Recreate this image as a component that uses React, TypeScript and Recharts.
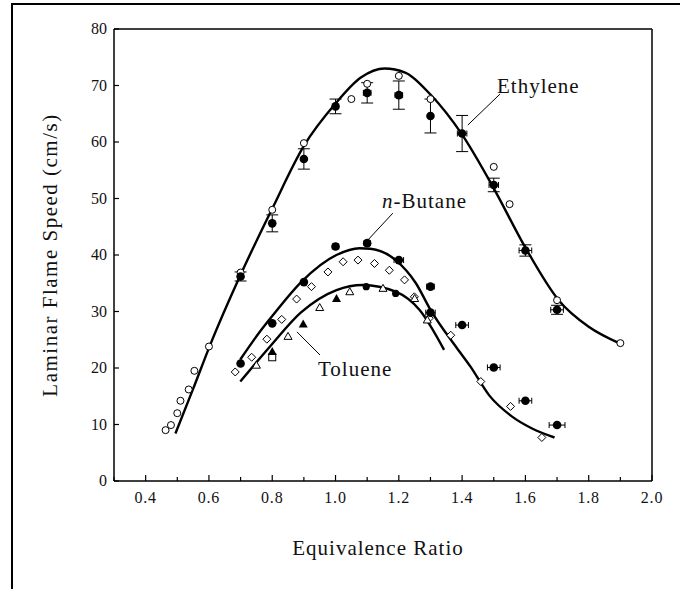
import React from 'react';
import {
  ComposedChart,
  Line,
  Scatter,
  XAxis,
  YAxis,
  ErrorBar,
  ReferenceLine,
} from 'recharts';

// fitted curves, [phi, speed]
const ethyleneCurve: number[][] = [
  [0.494, 8.4], [0.55, 16.3], [0.604, 24.1], [0.7, 36.5], [0.8, 48.2], [0.9, 59.3],
  [1.0, 66.8], [1.08, 71.4], [1.155, 73.0], [1.22, 72.3], [1.3, 68.4], [1.4, 61.3],
  [1.5, 51.8], [1.6, 41.3], [1.705, 32.0], [1.8, 27.3], [1.896, 24.4],
];
const butaneCurve: number[][] = [
  [0.699, 21.5], [0.762, 26.5], [0.8, 29.2], [0.893, 35.3], [1.003, 40.0], [1.076, 41.2],
  [1.11, 41.1], [1.19, 39.1], [1.254, 35.0], [1.3, 30.3], [1.38, 23.8], [1.427, 20.2],
  [1.485, 15.2], [1.558, 11.4], [1.621, 9.3], [1.692, 7.7],
];
const tolueneCurve: number[][] = [
  [0.699, 17.6], [0.793, 23.8], [0.89, 29.8], [1.003, 33.8], [1.086, 34.7], [1.19, 33.5],
  [1.265, 30.3], [1.343, 23.2],
];

// measurements
const ethyleneOpen: number[][] = [
  [0.463, 9.0], [0.48, 9.9], [0.5, 12.0], [0.51, 14.2], [0.536, 16.2], [0.554, 19.5],
  [0.6, 23.8], [0.7, 36.9], [0.8, 48.0], [0.9, 59.8], [1.05, 67.6], [1.1, 70.3],
  [1.2, 71.7], [1.3, 67.6], [1.5, 55.6], [1.55, 49.0], [1.7, 32.0], [1.9, 24.4],
];
// [phi, speed, y-error, x-error]
const ethyleneFilled: number[][] = [
  [0.7, 36.2, 0.8, 0], [0.8, 45.6, 1.5, 0], [0.9, 57.0, 1.8, 0], [1.0, 66.3, 1.3, 0],
  [1.1, 68.7, 1.8, 0.012], [1.2, 68.3, 2.5, 0.012], [1.3, 64.6, 3.0, 0],
  [1.4, 61.5, 3.2, 0.015], [1.5, 52.4, 1.2, 0.015], [1.6, 40.8, 1.0, 0.02],
  [1.7, 30.3, 0.8, 0.02],
];
const butaneFilled: number[][] = [
  [0.7, 20.8, 0], [0.8, 27.9, 0], [0.9, 35.2, 0], [1.0, 41.5, 0.01], [1.1, 42.1, 0.01],
  [1.2, 39.1, 0.015], [1.3, 34.4, 0.012], [1.3, 29.8, 0.015], [1.4, 27.6, 0.02],
  [1.5, 20.1, 0.02], [1.6, 14.2, 0.02], [1.7, 9.9, 0.025],
];
const butaneOpen: number[][] = [
  [0.683, 19.3], [0.735, 21.9], [0.783, 25.1], [0.83, 28.6], [0.877, 32.2], [0.924, 34.4],
  [0.976, 37.0], [1.024, 38.8], [1.071, 39.1], [1.123, 38.5], [1.17, 37.3], [1.218, 35.6],
  [1.249, 32.6], [1.296, 28.8], [1.364, 25.8], [1.459, 17.6], [1.553, 13.2], [1.652, 7.7],
];
const tolueneTriFilled: number[][] = [[0.8, 22.9], [0.898, 27.8], [1.003, 32.3]];
const tolueneDotFilled: number[][] = [[1.097, 34.4], [1.19, 33.2]];
const tolueneTriOpen: number[][] = [
  [0.75, 20.5], [0.85, 25.6], [0.95, 30.7], [1.045, 33.5], [1.15, 34.1], [1.25, 32.3], [1.29, 28.5],
];
const tolueneSquare: number[][] = [[0.8, 21.9]];

const xTicks = [0.3, 0.4, 0.5, 0.6, 0.7, 0.8, 0.9, 1.0, 1.1, 1.2, 1.3, 1.4, 1.5, 1.6, 1.7, 1.8, 1.9, 2.0];
const yTicks = [0, 10, 20, 30, 40, 50, 60, 70, 80];

const toPts = (arr: number[][]) =>
  arr.map((d) => ({ phi: d[0], v: d[1], ey: d[2] ?? 0, ex: d[3] ?? 0 }));
const toButane = (arr: number[][]) => arr.map((d) => ({ phi: d[0], v: d[1], ex: d[2] }));

const FONT = "'Liberation Serif', 'DejaVu Serif', serif";

const XTick = ({ x, y, payload }: any) => {
  const v = payload.value;
  const tenth = Math.round(v * 10);
  const major = tenth % 2 === 0;
  return (
    <g>
      <line x1={x} y1={y} x2={x} y2={y - (major ? 6 : 4)} stroke="#000" strokeWidth={1.2} />
      {major && tenth >= 4 && (
        <text
          x={x}
          y={y + 22}
          textAnchor="middle"
          fill="#111"
          style={{ fontFamily: FONT, fontSize: 16, letterSpacing: 0.8 }}
        >
          {v.toFixed(1)}
        </text>
      )}
    </g>
  );
};

const YTick = ({ x, y, payload }: any) => (
  <g>
    <line x1={x} y1={y} x2={x + 5} y2={y} stroke="#000" strokeWidth={1.2} />
    <text x={x - 7} y={y + 5} textAnchor="end" fill="#111" style={{ fontFamily: FONT, fontSize: 16 }}>
      {payload.value}
    </text>
  </g>
);

const openCircle = (p: any) => <circle cx={p.cx} cy={p.cy} r={3.5} fill="#fff" stroke="#000" strokeWidth={1} />;
const filledCircle = (p: any) => <circle cx={p.cx} cy={p.cy} r={4.3} fill="#000" />;
const smallDot = (p: any) => <circle cx={p.cx} cy={p.cy} r={3.6} fill="#000" />;
const diamond = (p: any) => (
  <polygon
    points={`${p.cx},${p.cy - 4} ${p.cx + 4},${p.cy} ${p.cx},${p.cy + 4} ${p.cx - 4},${p.cy}`}
    fill="#fff"
    stroke="#000"
    strokeWidth={1}
  />
);
const triFilled = (p: any) => (
  <polygon points={`${p.cx},${p.cy - 4.5} ${p.cx + 4.5},${p.cy + 3.5} ${p.cx - 4.5},${p.cy + 3.5}`} fill="#000" />
);
const triOpen = (p: any) => (
  <polygon
    points={`${p.cx},${p.cy - 4} ${p.cx + 4},${p.cy + 3} ${p.cx - 4},${p.cy + 3}`}
    fill="#fff"
    stroke="#000"
    strokeWidth={1}
  />
);
const square = (p: any) => (
  <rect x={p.cx - 3.5} y={p.cy - 3.5} width={7} height={7} fill="#fff" stroke="#000" strokeWidth={1} />
);

const textStyle: React.CSSProperties = {
  position: 'absolute',
  fontFamily: FONT,
  fontSize: 21,
  letterSpacing: 1,
  color: '#111',
  lineHeight: 1,
  whiteSpace: 'nowrap',
};

export default function App() {
  return (
    <div style={{ position: 'absolute', left: 0, top: 0, width: 680, height: 589, background: '#fff' }}>
      <div
        style={{
          position: 'absolute',
          left: 11,
          top: 3,
          width: 667,
          height: 584,
          borderLeft: '2px solid #000',
          borderTop: '2px solid #000',
        }}
      />
      <ComposedChart width={680} height={589} margin={{ top: 29, right: 28, bottom: 78, left: 54 }}>
        <XAxis
          type="number"
          dataKey="phi"
          domain={[0.3, 2.0]}
          ticks={xTicks}
          interval={0}
          allowDataOverflow
          height={30}
          tickSize={0}
          tickMargin={0}
          tickLine={false}
          tick={<XTick />}
          axisLine={{ stroke: '#000', strokeWidth: 1.5 }}
        />
        <YAxis
          type="number"
          domain={[0, 80]}
          ticks={yTicks}
          interval={0}
          width={60}
          tickSize={0}
          tickMargin={0}
          tickLine={false}
          tick={<YTick />}
          axisLine={{ stroke: '#000', strokeWidth: 1.5 }}
        />
        <ReferenceLine y={80} stroke="#000" strokeWidth={1.5} />
        <ReferenceLine x={2.0} stroke="#000" strokeWidth={1.5} />

        <Line data={toPts(ethyleneCurve)} dataKey="v" type="monotone" stroke="#000" strokeWidth={2.4} dot={false} isAnimationActive={false} />
        <Line data={toPts(butaneCurve)} dataKey="v" type="monotone" stroke="#000" strokeWidth={2.4} dot={false} isAnimationActive={false} />
        <Line data={toPts(tolueneCurve)} dataKey="v" type="monotone" stroke="#000" strokeWidth={2.4} dot={false} isAnimationActive={false} />

        <Scatter data={toPts(ethyleneOpen)} dataKey="v" shape={openCircle} isAnimationActive={false} />
        <Scatter data={toPts(ethyleneFilled)} dataKey="v" shape={filledCircle} isAnimationActive={false}>
          <ErrorBar dataKey="ey" direction="y" width={6} stroke="#000" strokeWidth={1} />
          <ErrorBar dataKey="ex" direction="x" width={3} stroke="#000" strokeWidth={1} />
        </Scatter>
        <Scatter data={toPts(butaneOpen)} dataKey="v" shape={diamond} isAnimationActive={false} />
        <Scatter data={toButane(butaneFilled)} dataKey="v" shape={filledCircle} isAnimationActive={false}>
          <ErrorBar dataKey="ex" direction="x" width={3} stroke="#000" strokeWidth={1} />
        </Scatter>
        <Scatter data={toPts(tolueneTriOpen)} dataKey="v" shape={triOpen} isAnimationActive={false} />
        <Scatter data={toPts(tolueneSquare)} dataKey="v" shape={square} isAnimationActive={false} />
        <Scatter data={toPts(tolueneTriFilled)} dataKey="v" shape={triFilled} isAnimationActive={false} />
        <Scatter data={toPts(tolueneDotFilled)} dataKey="v" shape={smallDot} isAnimationActive={false} />

        <ReferenceLine segment={[{ x: 1.418, y: 63.0 }, { x: 1.52, y: 68.5 }]} stroke="#000" strokeWidth={1} />
        <ReferenceLine segment={[{ x: 1.103, y: 42.7 }, { x: 1.181, y: 47.4 }]} stroke="#000" strokeWidth={1} />
        <ReferenceLine segment={[{ x: 0.878, y: 26.4 }, { x: 0.951, y: 22.3 }]} stroke="#000" strokeWidth={1} />
      </ComposedChart>

      <div style={{ ...textStyle, left: 497, top: 86, transform: 'translateY(-50%)' }}>Ethylene</div>
      <div style={{ ...textStyle, left: 382, top: 201, transform: 'translateY(-50%)' }}>
        <i>n</i>-Butane
      </div>
      <div style={{ ...textStyle, left: 318, top: 369, transform: 'translateY(-50%)' }}>Toluene</div>
      <div style={{ ...textStyle, left: 378, top: 548, transform: 'translate(-50%, -50%)' }}>Equivalence Ratio</div>
      <div
        style={{
          ...textStyle,
          letterSpacing: 1.5,
          left: 50,
          top: 255,
          transform: 'translate(-50%, -50%) rotate(-90deg)',
        }}
      >
        Laminar Flame Speed (cm/s)
      </div>
    </div>
  );
}
